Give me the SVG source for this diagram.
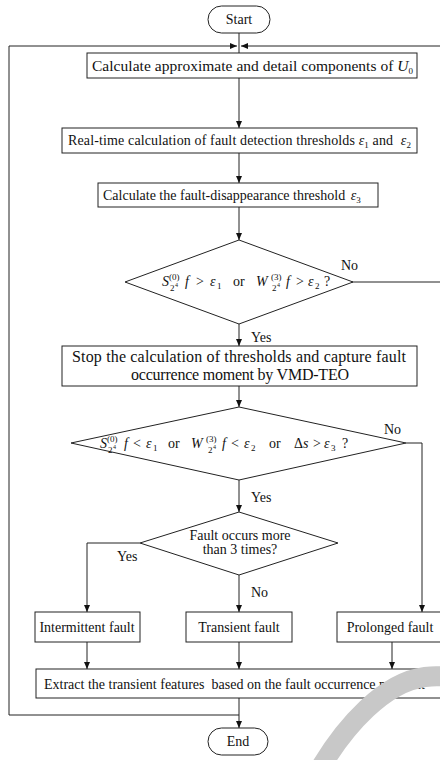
<svg xmlns="http://www.w3.org/2000/svg" width="440" height="760" viewBox="0 0 440 760">
<style>
text{font-family:"Liberation Serif","Times New Roman",serif;font-size:14px;fill:#111}
.c{text-anchor:middle}
.i{font-style:italic}
.s{font-size:9px}
.t{font-size:6px}
.box{fill:#fff;stroke:#222;stroke-width:1}
.ln{fill:none;stroke:#222;stroke-width:1}
.arr{fill:none;stroke:#222;stroke-width:1;marker-end:url(#ah)}
</style>
<defs>
<marker id="ah" markerWidth="8" markerHeight="8" refX="7" refY="3" orient="auto" markerUnits="userSpaceOnUse">
<path d="M0,0 L7,3 L0,6 Z" fill="#111"/>
</marker>
</defs>
<rect width="440" height="760" fill="#fff"/>

<g id="connectors">
<line class="ln" x1="239" y1="33" x2="239" y2="53"/>
<polyline class="arr" points="9,715 9,46 237,46"/>
<polyline class="arr" points="352,282 441,282 441,46 241,46"/>
<line class="arr" x1="239" y1="78" x2="239" y2="128"/>
<line class="arr" x1="239" y1="153" x2="239" y2="183"/>
<line class="arr" x1="239" y1="207" x2="239" y2="240"/>
<line class="arr" x1="239" y1="324" x2="239" y2="346"/>
<line class="arr" x1="239" y1="386" x2="239" y2="407"/>
<line class="arr" x1="239" y1="480" x2="239" y2="512"/>
<polyline class="arr" points="406,443 422,443 422,612"/>
<polyline class="arr" points="140,543 87,543 87,612"/>
<line class="arr" x1="239" y1="575" x2="239" y2="612"/>
<line class="arr" x1="87" y1="642" x2="87" y2="669"/>
<line class="arr" x1="239" y1="642" x2="239" y2="669"/>
<line class="arr" x1="392" y1="642" x2="392" y2="669"/>
<polyline class="ln" points="9,715 239,715"/>
<line class="arr" x1="239" y1="698" x2="239" y2="728"/>
<text x="341" y="270">No</text>
<text x="251" y="342">Yes</text>
<text x="384" y="434">No</text>
<text x="251" y="502">Yes</text>
<text x="117" y="561">Yes</text>
<text x="251" y="597">No</text>
</g>

<g id="start"><rect class="box" x="208" y="6" width="62" height="27" rx="13.5"/><text class="c" x="239" y="24">Start</text></g>

<g id="calc-components"><rect class="box" x="87" y="53" width="330" height="25"/>
<text x="92" y="70.5" style="font-size:15.5px" textLength="321" lengthAdjust="spacing">Calculate approximate and detail components of <tspan class="i">U</tspan><tspan class="s" dy="3">0</tspan></text></g>

<g id="calc-thresholds"><rect class="box" x="62" y="128" width="355" height="25"/>
<text x="68" y="145" textLength="343" lengthAdjust="spacing">Real-time calculation of fault detection thresholds <tspan class="i">ε</tspan><tspan class="s" dy="3">1</tspan><tspan dy="-3"> and </tspan><tspan class="i" dx="4">ε</tspan><tspan class="s" dy="3">2</tspan></text></g>

<g id="calc-disappear"><rect class="box" x="98" y="183" width="280" height="24"/>
<text x="103" y="200">Calculate the fault-disappearance threshold <tspan class="i" dx="2">ε</tspan><tspan class="s" dy="3">3</tspan></text></g>

<g id="decision-1"><polygon class="box" points="239,240 353,282 239,324 125,282"/>
<text y="286"><tspan class="i" x="162">S</tspan><tspan class="s" x="169" y="280">(0)</tspan><tspan class="s" x="170" y="291">2</tspan><tspan class="t" x="175" y="287">4</tspan><tspan class="i" x="185" y="286">f</tspan><tspan x="196">&gt;</tspan><tspan class="i" x="210">ε</tspan><tspan class="s" x="217" y="289">1</tspan><tspan x="233" y="286">or</tspan><tspan class="i" x="256">W</tspan><tspan class="s" x="271" y="280">(3)</tspan><tspan class="s" x="272" y="291">2</tspan><tspan class="t" x="277" y="287">4</tspan><tspan class="i" x="286" y="286">f</tspan><tspan x="296">&gt;</tspan><tspan class="i" x="308">ε</tspan><tspan class="s" x="315" y="289">2</tspan><tspan x="324" y="286">?</tspan></text></g>

<g id="stop-calc"><rect class="box" x="62" y="346" width="355" height="40"/>
<text x="72" y="362" style="font-size:16px" textLength="334" lengthAdjust="spacing">Stop the calculation of thresholds and capture fault</text>
<text x="131" y="380" style="font-size:16px" textLength="218" lengthAdjust="spacing">occurrence  moment  by VMD-TEO</text></g>

<g id="decision-2"><polygon class="box" points="239,407 406,443 239,480 71,443"/>
<text y="448"><tspan class="i" x="100">S</tspan><tspan class="s" x="107" y="442">(0)</tspan><tspan class="s" x="108" y="453">2</tspan><tspan class="t" x="113" y="449">4</tspan><tspan class="i" x="124" y="448">f</tspan><tspan x="133">&lt;</tspan><tspan class="i" x="146">ε</tspan><tspan class="s" x="153" y="451">1</tspan><tspan x="168" y="448">or</tspan><tspan class="i" x="191">W</tspan><tspan class="s" x="206" y="442">(3)</tspan><tspan class="s" x="208" y="453">2</tspan><tspan class="t" x="213" y="449">4</tspan><tspan class="i" x="222" y="448">f</tspan><tspan x="231">&lt;</tspan><tspan class="i" x="244">ε</tspan><tspan class="s" x="251" y="451">2</tspan><tspan x="269" y="448">or</tspan><tspan x="294">Δ</tspan><tspan class="i" x="303">s</tspan><tspan x="313">&gt;</tspan><tspan class="i" x="324">ε</tspan><tspan class="s" x="331" y="451">3</tspan><tspan x="342" y="448">?</tspan></text></g>

<g id="decision-3"><polygon class="box" points="239,512 338,543 239,575 140,543"/>
<text class="c" x="240" y="540">Fault occurs more</text>
<text class="c" x="240" y="554">than 3 times?</text></g>

<g id="intermittent"><rect class="box" x="35" y="612" width="105" height="30"/><text class="c" x="87" y="632">Intermittent fault</text></g>
<g id="transient"><rect class="box" x="186" y="612" width="106" height="30"/><text class="c" x="239" y="632">Transient fault</text></g>
<g id="prolonged"><rect class="box" x="337" y="612" width="105" height="30"/><text class="c" x="390" y="632">Prolonged fault</text></g>

<g id="extract"><rect class="box" x="36" y="669" width="408" height="29"/>
<text x="44" y="689" xml:space="preserve">Extract the transient features  based on the fault occurrence moment</text></g>

<g id="end"><rect class="box" x="208" y="728" width="60" height="27" rx="13.5"/><text class="c" x="238" y="746">End</text></g>

<path d="M 318 772 C 345 725, 385 682, 425 677 S 447 690 452 702" fill="none" stroke="#c8c8c8" stroke-width="20"/>
</svg>
